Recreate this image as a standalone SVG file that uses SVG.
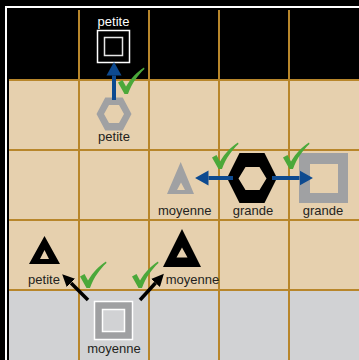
<svg xmlns="http://www.w3.org/2000/svg" width="359" height="360" viewBox="0 0 359 360">
<style>
.lbl{font-family:"Liberation Sans",Arial,sans-serif;font-size:13px;text-anchor:middle;fill:#231f20}
.lblw{fill:#ffffff}
.grid{stroke:#b8862b;stroke-width:2;fill:none}
.gray{fill:#a0a1a3;fill-rule:evenodd}
.blk{fill:#000000;fill-rule:evenodd}
.blue{stroke:#0d4a90;stroke-width:4;fill:none}
.barrow{stroke:#000000;stroke-width:3.5;fill:none}
.chk{fill:#4ba83a}
</style>
<defs>
<marker id="hb" markerUnits="userSpaceOnUse" markerWidth="14" markerHeight="16" refX="0" refY="7" orient="auto" viewBox="0 0 13 14">
<path d="M0,0 L12.5,7 L0,14 Z" fill="#0d4a90"/>
</marker>
<marker id="hk" markerUnits="userSpaceOnUse" markerWidth="13" markerHeight="12" refX="0" refY="5.5" orient="auto" viewBox="0 0 12 11">
<path d="M0,0 L11.5,5.5 L0,11 Z" fill="#000000"/>
</marker>
<path id="check" d="M0,15.5 L4.5,13 L8,19.5 C13,11 19,5 26,0.5 L26.5,2 C20,8 14,16 10,27 L6.5,27 Z"/>
</defs>
<rect x="0" y="0" width="359" height="360" fill="#000000"/>
<rect x="5" y="6" width="2" height="354" fill="#ffffff"/>
<rect x="5" y="6" width="354" height="2" fill="#ffffff"/>
<rect x="9" y="80" width="350" height="210" fill="#e6d0ae"/>
<rect x="9" y="290" width="350" height="70" fill="#d1d2d4"/>
<g id="grid" class="grid">
<line x1="79" y1="10" x2="79" y2="360"/>
<line x1="149" y1="10" x2="149" y2="360"/>
<line x1="219" y1="10" x2="219" y2="360"/>
<line x1="289" y1="10" x2="289" y2="360"/>
<line x1="9" y1="80" x2="359" y2="80"/>
<line x1="9" y1="150" x2="359" y2="150"/>
<line x1="9" y1="220" x2="359" y2="220"/>
<line x1="9" y1="290" x2="359" y2="290"/>
</g>
<g id="node-top-petite">
<rect x="97.5" y="30.5" width="32" height="32" fill="#000000" stroke="#ffffff" stroke-width="1.5"/>
<rect x="104.5" y="37.5" width="18" height="18" fill="#000000" stroke="#e6e6e6" stroke-width="1.5"/>
<text class="lbl lblw" x="113.5" y="26">petite</text>
</g>
<g id="node-hex-petite">
<path class="gray" d="M96.5,114 L105.25,97.5 L122.75,97.5 L131.5,114 L122.75,130.5 L105.25,130.5 Z M104,114 L109,105 L119,105 L124,114 L119,123 L109,123 Z"/>
<text class="lbl" x="114" y="141">petite</text>
</g>
<g id="node-tri-moyenne">
<path class="gray" d="M180.7,162 L194,194 L167,194 Z M181,182.5 L185,190 L177,190 Z"/>
<text class="lbl" x="184.7" y="215">moyenne</text>
</g>
<g id="node-hex-grande">
<path class="blk" d="M227,178 L239.5,153 L264.5,153 L277,178 L264.5,203 L239.5,203 Z M238.5,178.5 L245.5,167 L259.5,167 L266.5,178.5 L259.5,190 L245.5,190 Z"/>
<text class="lbl" x="253" y="215">grande</text>
</g>
<g id="node-sq-grande">
<path class="gray" d="M299,153 H348 V203 H299 Z M310,164 V193 H338 V164 Z"/>
<text class="lbl" x="323" y="215">grande</text>
</g>
<g id="node-tri-petite">
<path class="blk" d="M44.5,236 L60,264 L29,264 Z M44.5,250 L49,259 L40,259 Z"/>
<text class="lbl" x="44" y="284">petite</text>
</g>
<g id="node-tri-moyenne-big">
<path class="blk" d="M182,229 L201,267 L163,267 Z M182,247.5 L187.5,257.5 L176.5,257.5 Z"/>
<text class="lbl" x="192.5" y="284">moyenne</text>
</g>
<g id="node-sq-moyenne">
<rect x="94.5" y="301.5" width="38" height="38" fill="#9fa0a2" stroke="#ffffff" stroke-width="1.5"/>
<rect x="102.5" y="309.5" width="22" height="22" fill="#d1d2d4" stroke="#ffffff" stroke-width="1.5"/>
<text class="lbl" x="114" y="353">moyenne</text>
</g>
<g id="connectors">
<line class="blue" x1="114" y1="100" x2="114" y2="75.5" marker-end="url(#hb)"/>
<line class="blue" x1="233" y1="178" x2="208.5" y2="178" marker-end="url(#hb)"/>
<line class="blue" x1="272" y1="178" x2="299.5" y2="178" marker-end="url(#hb)"/>
<line class="barrow" x1="88" y1="300" x2="71" y2="283" marker-end="url(#hk)"/>
<line class="barrow" x1="140" y1="300" x2="155.5" y2="283" marker-end="url(#hk)"/>
</g>
<g id="checks" class="chk">
<use href="#check" x="118" y="67"/>
<use href="#check" x="212" y="142"/>
<use href="#check" x="283" y="142"/>
<use href="#check" x="80" y="261"/>
<use href="#check" x="132" y="261"/>
</g>
</svg>
